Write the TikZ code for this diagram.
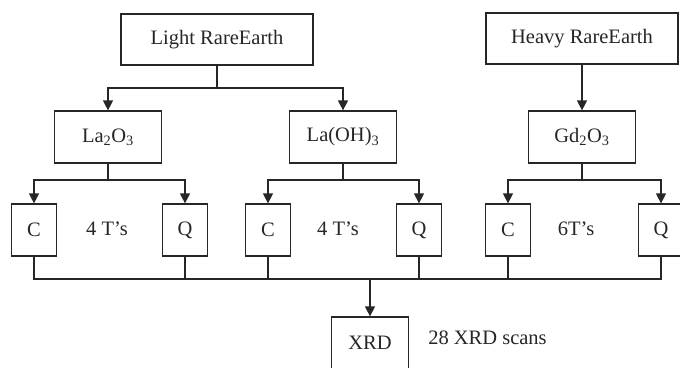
\documentclass[tikz,border=0pt]{standalone}
\usepackage{fontspec}
\setmainfont{Liberation Serif}
\usetikzlibrary{arrows.meta}

\begin{document}
\begin{tikzpicture}[x=1pt,y=-1pt,>={Triangle[length=10pt,width=10pt]}, line width=1.2pt, draw=black!85]
                \tikzstyle{block} = [draw=black!85, rectangle, inner sep=0pt, text=black!85, font=\fontsize{20.5}{24}\selectfont]
                \tikzstyle{big} = [block, minimum width=192pt, minimum height=51pt]
                \tikzstyle{mid} = [block, minimum width=107pt, minimum height=52pt]
                \tikzstyle{small} = [block, minimum width=45pt, minimum height=52pt]
                \tikzstyle{note} = [text=black!85, font=\fontsize{20.5}{24}\selectfont]

                % Frame (the picture is cut at the right and bottom)
                \path[use as bounding box, clip] (0,0) rectangle (680,367);

                % Top row
                \node[big] (light) at (217, 39.5) {Light RareEarth};
                \node[big] (heavy) at (582, 38.5) {Heavy RareEarth};

                % Middle row
                \node[mid] (la2o3) at (108, 137) {La\textsubscript{2}O\textsubscript{3}};
                \node[mid] (laoh3) at (343, 137) {La(OH)\textsubscript{3}};
                \node[mid] (gd2o3) at (582, 137) {Gd\textsubscript{2}O\textsubscript{3}};

                % C / Q boxes
                \node[small] (c1) at (34, 230) {C};
                \node[small] (q1) at (185, 230) {Q};
                \node[small] (c2) at (268, 230) {C};
                \node[small] (q2) at (419, 230) {Q};
                \node[small] (c3) at (508, 230) {C};
                \node[small] (q3) at (661, 230) {Q};

                % Bottom box
                \node[block, minimum width=77pt, minimum height=52pt] (xrd) at (370, 343) {XRD};

                % Labels
                \node[note] (t1) at (107, 229) {4 T’s};
                \node[note] (t2) at (338, 229) {4 T’s};
                \node[note] (t3) at (576, 229) {6T’s};
                \node[note] (scans) at (487.5, 338) {28 XRD scans};

                % Junction points
                \coordinate (split) at (217, 88);
                \coordinate (s1) at (108, 180);
                \coordinate (s2) at (343, 180);
                \coordinate (s3) at (582, 180);
                \coordinate (merge) at (370, 279);

                % Light rare earth
                \draw (light.south) -- (split);
                \draw[->] (split) -| (la2o3.north);
                \draw[->] (split) -| (laoh3.north);

                % Heavy rare earth
                \draw[->] (heavy.south) -- (gd2o3.north);

                % Splits to C and Q
                \draw (la2o3.south) -- (s1);
                \draw[->] (s1) -| (c1.north);
                \draw[->] (s1) -| (q1.north);

                \draw (laoh3.south) -- (s2);
                \draw[->] (s2) -| (c2.north);
                \draw[->] (s2) -| (q2.north);

                \draw (gd2o3.south) -- (s3);
                \draw[->] (s3) -| (c3.north);
                \draw[->] (s3) -| (q3.north);

                % Merge into XRD
                \draw (c1.south) |- (q3.south |- merge) -- (q3.south);
                \draw (q1.south) -- (q1.south |- merge);
                \draw (c2.south) -- (c2.south |- merge);
                \draw (q2.south) -- (q2.south |- merge);
                \draw (c3.south) -- (c3.south |- merge);
                \draw[->] (merge) -- (xrd.north);
            \end{tikzpicture}
\end{document}
